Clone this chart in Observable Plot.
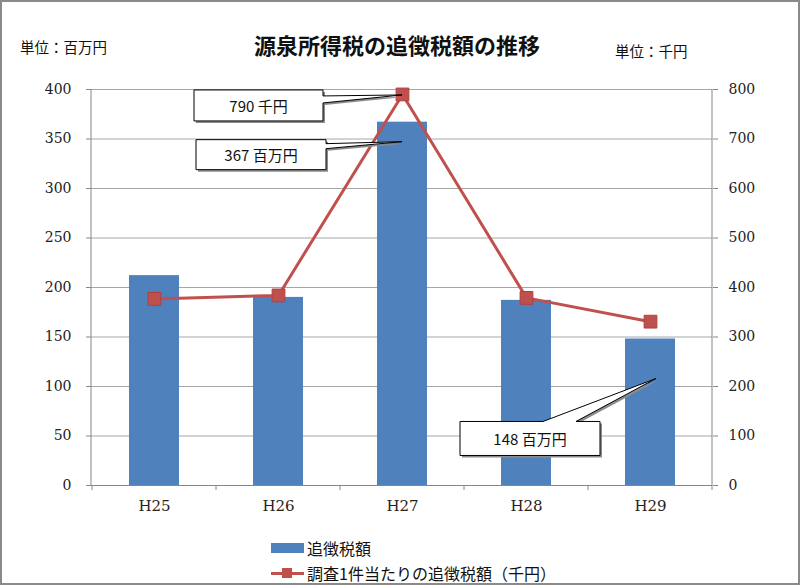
<!DOCTYPE html>
<html>
<head>
<meta charset="utf-8">
<script src="https://cdn.jsdelivr.net/npm/d3@7"></script>
<script src="https://cdn.jsdelivr.net/npm/@observablehq/plot@0.6"></script>
<style>
  html, body { margin: 0; padding: 0; background: #fff; }
  #wrap { position: relative; width: 800px; height: 585px; overflow: hidden; background: #fff; }
  #wrap svg { position: absolute; left: 0; top: 0; }
  #wrap svg g[aria-label="y-axis tick label"], #wrap svg g[aria-label="y-axis tick label"] text {
    font-size: 14px !important; font-family: "DejaVu Serif", serif !important; fill: #222;
  }
  #wrap svg g[aria-label="x-axis tick label"], #wrap svg g[aria-label="x-axis tick label"] text {
    font-size: 15px !important; font-family: "DejaVu Serif", serif !important; fill: #222;
  }
  .lbl { position: absolute; font-family: "Noto Sans CJK JP", sans-serif; color: #111; white-space: nowrap; line-height: 1; }
  #border { position: absolute; left: 0; top: 0; width: 800px; height: 585px; box-sizing: border-box; border: 2px solid #8a8a8a; pointer-events: none; }
</style>
</head>
<body>
<div id="wrap">
  <div class="lbl" id="title" style="left:0;width:794px;text-align:center;top:33px;font-size:22px;font-weight:bold;">源泉所得税の追徴税額の推移</div>
  <div class="lbl" style="left:20px;top:40px;font-size:14.5px;">単位：百万円</div>
  <div class="lbl" style="left:615px;top:44px;font-size:14.5px;">単位：千円</div>
  <div class="lbl" style="left:271px;top:540px;font-size:16px;display:flex;align-items:center;">
    <span style="display:inline-block;width:33px;height:10px;background:#4F81BD;margin-right:3px;"></span>追徴税額
  </div>
  <div class="lbl" style="left:271px;top:565px;font-size:16px;display:flex;align-items:center;">
    <span style="position:relative;display:inline-block;width:33px;height:16px;margin-right:3px;">
      <span style="position:absolute;left:0;top:6.5px;width:33px;height:3px;background:#C0504D;"></span>
      <span style="position:absolute;left:11px;top:3px;width:10px;height:10px;background:#C0504D;"></span>
    </span>調査1件当たりの追徴税額（千円）
  </div>
  <div id="border"></div>
</div>
<script>
const categories = ["H25", "H26", "H27", "H28", "H29"];
const taxAmounts = [212, 190, 367, 187, 148];      // 追徴税額（百万円）
const perCaseAmounts = [377, 384, 790, 379, 331];  // 調査1件当たりの追徴税額（千円）
const leftTicks = [0, 50, 100, 150, 200, 250, 300, 350, 400];
const rightTicks = [0, 100, 200, 300, 400, 500, 600, 700, 800];
const callouts = [
  {label: "790 千円", year: "H27", series: "perCase"},
  {label: "367 百万円", year: "H27", series: "amount"},
  {label: "148 百万円", year: "H29", series: "amount"}
];

const table = categories.map((c, i) => ({year: c, amount: taxAmounts[i], perCase: perCaseAmounts[i]}));
const ratio = rightTicks[rightTicks.length - 1] / leftTicks[leftTicks.length - 1];
const axisGray = "#868686";
const serif = "'DejaVu Serif', serif";

const plot = Plot.plot({
  width: 800,
  height: 585,
  marginLeft: 91,
  marginRight: 88,
  marginTop: 89,
  marginBottom: 100,
  x: {domain: categories, paddingInner: 0.6, paddingOuter: 0.3, label: null},
  y: {domain: [0, 400], label: null},
  style: {fontFamily: serif, fontSize: "14px", color: "#222", background: "transparent"},
  marks: [
    Plot.gridY(leftTicks, {stroke: "#a6a6a6", strokeOpacity: 1}),
    Plot.barY(table, {x: "year", y: "amount", fill: "#4F81BD"}),
    Plot.ruleY([0], {stroke: axisGray}),
    Plot.axisY(leftTicks, {anchor: "left", tickSize: 5, tickPadding: 15, stroke: axisGray, label: null}),
    Plot.axisY(rightTicks.map(v => v / ratio), {anchor: "right", tickSize: 5, tickPadding: 11, stroke: axisGray, tickFormat: d => d * ratio, label: null}),
    Plot.axisX({tickSize: 0, tickPadding: 15, label: null}),
    Plot.lineY(table, {x: "year", y: d => d.perCase / ratio, stroke: "#C0504D", strokeWidth: 3}),
    Plot.dot(table, {x: "year", y: d => d.perCase / ratio, symbol: "square", r: 7.2, fill: "#C0504D", stroke: "#B0403D", strokeWidth: 1})
  ]
});

document.getElementById("wrap").insertBefore(plot, document.getElementById("border"));

// overlay using the plot's own scales
const xs = plot.scale("x"), ys = plot.scale("y");
const bw = xs.bandwidth != null ? xs.bandwidth : 50;
const step = xs.step != null ? xs.step : (xs.range[1] - xs.range[0]) / categories.length;
const cx = c => xs.apply(c) + bw / 2;
const svg = d3.select(plot);
const g = svg.append("g");
const [x0, x1] = xs.range;
const yTop = ys.apply(leftTicks[leftTicks.length - 1]), yBot = ys.apply(0);
// axis lines
g.append("line").attr("x1", x0).attr("x2", x0).attr("y1", yTop).attr("y2", yBot).attr("stroke", axisGray);
g.append("line").attr("x1", x1).attr("x2", x1).attr("y1", yTop).attr("y2", yBot).attr("stroke", axisGray);
// category boundary ticks
const firstEdge = xs.apply(categories[0]) - (step - bw) / 2;
for (let i = 0; i <= categories.length; i++) {
  const xx = firstEdge + i * step;
  g.append("line").attr("x1", xx).attr("x2", xx).attr("y1", yBot).attr("y2", yBot + 5).attr("stroke", axisGray);
}

// callouts
function valueY(c) {
  const row = table.find(d => d.year === c.year);
  return c.series === "perCase" ? ys.apply(row.perCase / ratio) : ys.apply(row.amount);
}
function drawCallout(pathD, tx, ty, w, h, l, t, label) {
  const cg = g.append("g");
  cg.append("path").attr("d", pathD).attr("transform", "translate(2,2)").attr("fill", "#8c8c8c");
  cg.append("path").attr("d", pathD).attr("fill", "#fff").attr("stroke", "#000").attr("stroke-width", 1);
  cg.append("text").attr("x", l + w / 2).attr("y", t + h / 2).attr("text-anchor", "middle")
    .attr("dominant-baseline", "central")
    .attr("font-family", "'Noto Sans CJK JP', sans-serif").attr("font-size", 15).attr("fill", "#111")
    .text(label);
}
// 790 千円
{
  const c = callouts[0];
  const tx = cx(c.year), ty = valueY(c) + 1;
  const l = tx - 208, t = ty - 5, w = 129, h = 31;
  const r = l + w, b = t + h;
  const d = `M${l},${t}H${r}V${t + 6}L${tx},${ty}L${r},${t + 13}V${b}H${l}Z`;
  drawCallout(d, tx, ty, w, h, l, t, c.label);
}
// 367 百万円
{
  const c = callouts[1];
  const tx = cx(c.year), ty = valueY(c) + 20;
  const l = tx - 206, t = ty - 2, w = 130, h = 30;
  const r = l + w, b = t + h;
  const d = `M${l},${t}H${r}V${t + 4}L${tx},${ty}L${r},${t + 9}V${b}H${l}Z`;
  drawCallout(d, tx, ty, w, h, l, t, c.label);
}
// 148 百万円
{
  const c = callouts[2];
  const tx = cx(c.year) + 6, ty = valueY(c) + 40;
  const l = tx - 196, t = ty + 43, w = 140, h = 34;
  const r = l + w, b = t + h;
  const d = `M${l},${t}H${l + 83}L${tx},${ty}L${l + 116},${t}H${r}V${b}H${l}Z`;
  drawCallout(d, tx, ty, w, h, l, t, c.label);
}
</script>
</body>
</html>
